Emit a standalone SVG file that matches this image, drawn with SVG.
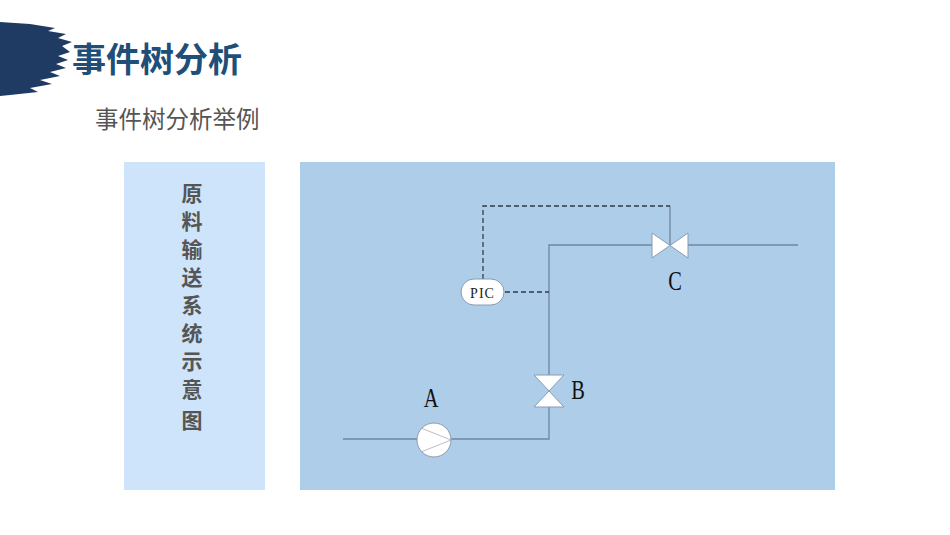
<svg xmlns="http://www.w3.org/2000/svg" width="950" height="535" viewBox="0 0 950 535">
<style>
.pipe{stroke:#6f86a3;stroke-width:1.3;fill:none}
.dash{stroke:#333c48;stroke-width:1.3;fill:none;stroke-dasharray:5,3}
.sym{fill:#fff;stroke:#8a9bb0;stroke-width:1}
.lbl{font-family:"Liberation Serif","Noto Serif",serif;fill:#111;font-size:24px}
</style>
<rect width="950" height="535" fill="#fff"/>
<polygon fill="#1f3a63" points="0,22 30,24 55,28 48,31 66,34 58,38 72,42 62,46 70,52 58,56 68,60 56,64 66,68 50,72 60,76 40,80 52,84 30,88 38,92 10,95 0,96"/>
<text x="72" y="72" font-family="'Noto Sans CJK SC',sans-serif" font-weight="bold" font-size="34" fill="#1f4e79">事件树分析</text>
<text x="95" y="128" font-family="'Noto Sans CJK SC',sans-serif" font-size="23.5" fill="#555">事件树分析举例</text>
<g id="side"><rect x="124" y="162" width="141" height="328" fill="#cde4fa"/>
<text font-family="'Noto Sans CJK SC',sans-serif" font-weight="bold" font-size="21" fill="#555" text-anchor="middle">
<tspan x="192" y="201">原</tspan><tspan x="192" y="229">料</tspan><tspan x="192" y="257">输</tspan><tspan x="192" y="285">送</tspan><tspan x="192" y="313">系</tspan><tspan x="192" y="341">统</tspan><tspan x="192" y="369">示</tspan><tspan x="192" y="397">意</tspan><tspan x="192" y="428">图</tspan></text></g>
<rect x="300" y="162" width="535" height="328" fill="#aecde8"/>
<g id="connectors">
<polyline class="pipe" points="343,439 549,439 549,245 652,245"/>
<line class="pipe" x1="688" y1="245" x2="798" y2="245"/>
<line class="pipe" x1="670" y1="206" x2="670" y2="245"/>
<polyline class="dash" points="483,279 483,206 670,206"/>
<line class="dash" x1="505" y1="292" x2="549" y2="292"/>
</g>
<g id="pump"><circle class="sym" cx="434" cy="440" r="17"/><polyline points="421,428 451,440 421,452" fill="none" stroke="#aab" stroke-width="0.8"/><text class="lbl" x="431" y="407" text-anchor="middle" transform="translate(431,407) scale(0.85,1.1) translate(-431,-407)">A</text></g>
<g id="valveB"><polygon class="sym" points="534,375 564,375 534,407 564,407"/><text class="lbl" x="578" y="399" text-anchor="middle" transform="translate(578,399) scale(0.85,1.1) translate(-578,-399)">B</text></g>
<g id="valveC"><polygon class="sym" points="652,233 652,258 688,233 688,258"/><text class="lbl" x="675" y="290" text-anchor="middle" transform="translate(675,290) scale(0.85,1.1) translate(-675,-290)">C</text></g>
<g id="pic"><rect class="sym" x="461" y="279" width="43" height="26" rx="13"/><text x="482.5" y="297.5" font-family="'Liberation Serif',serif" font-size="14" text-anchor="middle" fill="#222" letter-spacing="1">PIC</text></g>
</svg>
